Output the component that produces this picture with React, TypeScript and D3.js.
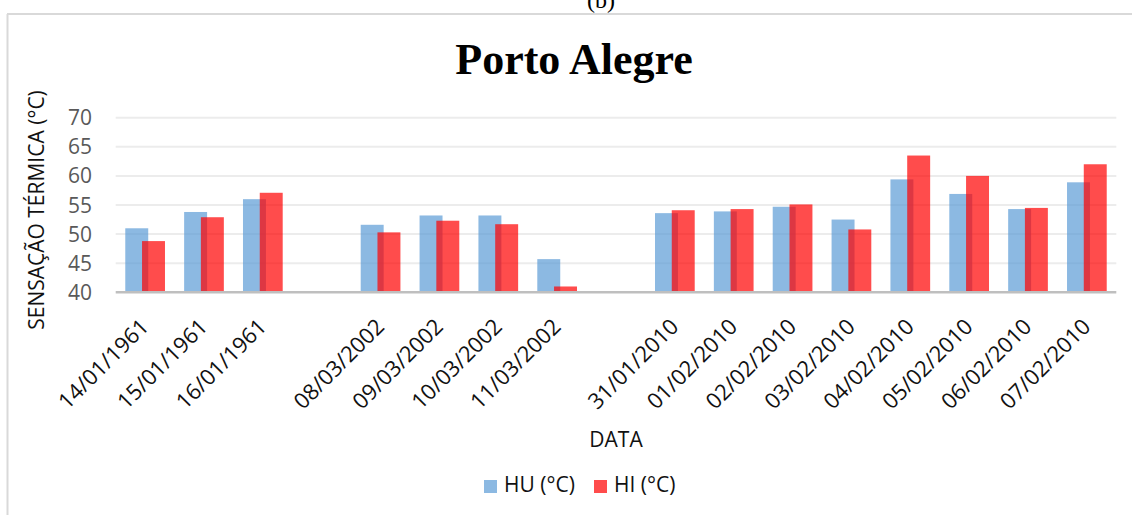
import { scaleBand, scaleLinear, range } from "d3"

const dates = [
    "14/01/1961", "15/01/1961", "16/01/1961", "",
    "08/03/2002", "09/03/2002", "10/03/2002", "11/03/2002", "",
    "31/01/2010", "01/02/2010", "02/02/2010", "03/02/2010",
    "04/02/2010", "05/02/2010", "06/02/2010", "07/02/2010",
]
const hu = [51.0, 53.8, 56.0, null, 51.6, 53.2, 53.2, 45.7, null, 53.6, 53.9, 54.7, 52.5, 59.4, 56.9, 54.3, 58.9]
const hi = [48.8, 52.9, 57.1, null, 50.3, 52.3, 51.7, 41.0, null, 54.1, 54.3, 55.1, 50.8, 63.5, 60.0, 54.5, 62.0]
const yTicks = [40, 45, 50, 55, 60, 65, 70]

const series = [
    { name: "HU (°C)", values: hu, color: "rgba(91,155,213,0.7)" },
    { name: "HI (°C)", values: hi, color: "rgba(255,0,0,0.7)" },
]

const font = "'Open Sans', sans-serif"

const App = () => {
    const width = 1132
    const height = 515

    const x = scaleBand<number>()
        .domain(range(dates.length))
        .range([115.7, 1116.3])
        .padding(0)

    const y = scaleLinear()
        .domain([40, 70])
        .range([292.3, 117.7])

    const bw = x.bandwidth()
    const barW = bw * 0.39
    const overlap = barW * 0.27
    const groupW = barW * 2 - overlap

    return (
        <svg width={width} height={height} style={{ position: "absolute", left: 0, top: 0, background: "#fff" }}>
            <rect x={0} y={0} width={width} height={height} fill="#fff" />
            {/* caption of the figure, cut by the top edge as in the source */}
            <text x={601} y={8} textAnchor="middle" fontFamily="'Liberation Serif', serif" fontSize={24}>(b)</text>
            <line x1={7} x2={width} y1={14} y2={14} stroke="#d9d9d9" strokeWidth={2} />
            <line x1={7.5} x2={7.5} y1={14} y2={height} stroke="#d9d9d9" strokeWidth={2} />

            <text x={574} y={74} textAnchor="middle" fontFamily="'Liberation Serif', serif"
                fontWeight="bold" fontSize={44}>Porto Alegre</text>

            <g className="grid">
                {yTicks.filter(t => t > 40).map(t => (
                    <line key={t} x1={x.range()[0]} x2={x.range()[1]} y1={y(t)} y2={y(t)}
                        stroke="#ececec" strokeWidth={2} />
                ))}
            </g>

            <g className="yaxis" fontFamily={font} fontSize={21} fill="#595959">
                {yTicks.map(t => (
                    <text key={t} x={92} y={y(t)} dy="0.36em" textAnchor="end">{t}</text>
                ))}
            </g>

            <g className="bars">
                {series.map((s, si) => (
                    <g key={s.name}>
                        {s.values.map((v, i) => v == null ? null : (
                            <rect key={i}
                                x={x(i)! + (bw - groupW) / 2 + si * (barW - overlap)}
                                y={y(v)}
                                width={barW}
                                height={y(40) - y(v)}
                                fill={s.color} />
                        ))}
                    </g>
                ))}
            </g>

            <line x1={x.range()[0]} x2={x.range()[1]} y1={y(40)} y2={y(40)} stroke="#bfbfbf" strokeWidth={2.5} />

            <g className="xaxis" fontFamily={font} fontSize={22} fill="#111">
                {dates.map((d, i) => d === "" ? null : (
                    <text key={i} textAnchor="end"
                        transform={`translate(${x(i)! + bw / 2 + 5},${328}) rotate(-45)`}>{d}</text>
                ))}
            </g>

            <text x={616} y={447} textAnchor="middle" fontFamily={font} fontSize={21} fill="#111">DATA</text>

            <text transform={`translate(44,210) rotate(-90)`} textAnchor="middle"
                fontFamily={font} fontSize={21} fill="#111">SENSAÇÃO TÉRMICA (°C)</text>

            <g className="legend" fontFamily={font} fontSize={21} fill="#111">
                {series.map((s, i) => {
                    const lx = 484 + i * 110
                    return (
                        <g key={s.name} transform={`translate(${lx},480)`}>
                            <rect x={0} y={0} width={13} height={13} fill={s.color} />
                            <text x={20} y={12}>{s.name}</text>
                        </g>
                    )
                })}
            </g>
        </svg>
    )
}

export default App
